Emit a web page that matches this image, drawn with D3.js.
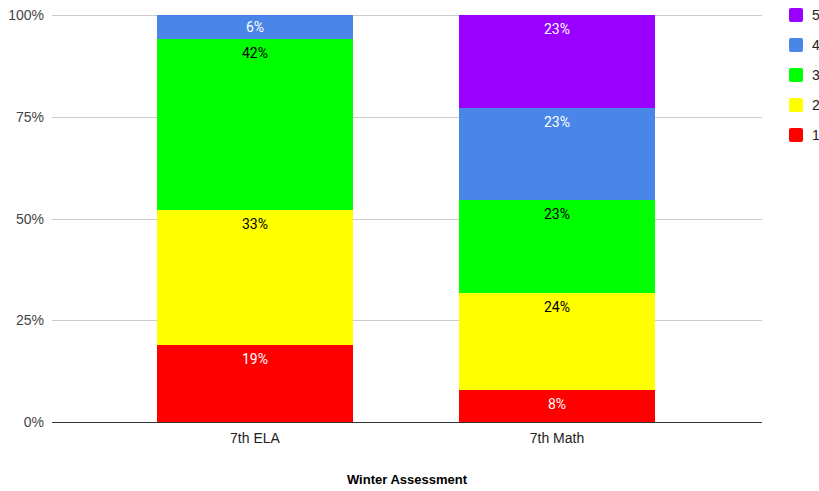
<!DOCTYPE html>
<html>
<head>
<meta charset="utf-8">
<script src="https://cdn.jsdelivr.net/npm/d3@7"></script>
<style>
  html, body { margin: 0; padding: 0; background: #fff; }
  svg { display: block; }
</style>
</head>
<body>
<svg id="chart" width="819" height="491"></svg>
<script>
// Assessment groups along the x axis
const categories = ["7th ELA", "7th Math"];
// Performance levels, bottom of the stack first
const levels = ["1", "2", "3", "4", "5"];
// Share of students (%) per level, one value per category
const level1 = [19, 8];
const level2 = [33, 24];
const level3 = [42, 23];
const level4 = [6, 23];
const level5 = [0, 23];
const yTicks = [0, 25, 50, 75, 100];
const xTitle = "Winter Assessment";

const colors = {"1": "#ff0000", "2": "#ffff00", "3": "#00ff00", "4": "#4a86e8", "5": "#9900ff"};
const labelColors = {"1": "#ffffff", "2": "#000000", "3": "#000000", "4": "#ffffff", "5": "#ffffff"};

const seriesValues = [level1, level2, level3, level4, level5];
const rows = categories.map((c, i) => {
  const row = {category: c};
  levels.forEach((l, j) => { row[l] = seriesValues[j][i]; });
  return row;
});

const svg = d3.select("#chart");
const plot = {left: 52, right: 762, top: 15, bottom: 422};

const x = d3.scaleBand().domain(categories).range([104, 708]).paddingInner(0.35).paddingOuter(0.175);
const y = d3.scaleLinear().domain([0, 1]).range([plot.bottom, plot.top]);

const stack = d3.stack().keys(levels).offset(d3.stackOffsetExpand);
const layers = stack(rows);

const axisFont = "Liberation Sans, Arial, sans-serif";

// Gridlines and y tick labels
const grid = svg.append("g");
yTicks.forEach(t => {
  const yy = Math.round(y(t / 100)) + 0.5;
  grid.append("line")
    .attr("x1", plot.left).attr("x2", plot.right)
    .attr("y1", yy).attr("y2", yy)
    .attr("stroke", "#cccccc").attr("stroke-width", 1);
  grid.append("text")
    .attr("x", 44).attr("y", yy)
    .attr("dy", "0.35em")
    .attr("text-anchor", "end")
    .attr("font-family", axisFont)
    .attr("font-size", 14)
    .attr("fill", "#444444")
    .text(t + "%");
});

// Stacked bars
const barGroup = svg.append("g").attr("shape-rendering", "crispEdges");
layers.forEach(layer => {
  barGroup.selectAll(null)
    .data(layer.filter(d => d[1] - d[0] > 0))
    .enter().append("rect")
    .attr("x", d => x(d.data.category))
    .attr("width", x.bandwidth())
    .attr("y", d => y(d[1]))
    .attr("height", d => y(d[0]) - y(d[1]))
    .attr("fill", colors[layer.key]);
});

// Segment value labels, placed near the top of each segment
const labelGroup = svg.append("g");
layers.forEach(layer => {
  labelGroup.selectAll(null)
    .data(layer.filter(d => d[1] - d[0] > 0))
    .enter().append("text")
    .attr("x", d => x(d.data.category) + x.bandwidth() / 2)
    .attr("y", d => {
      const top = y(d[1]);
      const mid = (y(d[0]) + y(d[1])) / 2;
      return Math.min(top + 14, mid);
    })
    .attr("dy", "0.35em")
    .attr("text-anchor", "middle")
    .attr("font-family", "Roboto, Liberation Sans, Arial, sans-serif")
    .attr("font-size", 14)
    .attr("fill", labelColors[layer.key])
    .text(d => d.data[layer.key] + "%");
});

// Baseline
svg.append("line")
  .attr("x1", plot.left).attr("x2", plot.right)
  .attr("y1", Math.round(y(0)) + 0.5).attr("y2", Math.round(y(0)) + 0.5)
  .attr("stroke", "#333333").attr("stroke-width", 1);

// X axis category labels
svg.append("g").selectAll("text")
  .data(categories)
  .enter().append("text")
  .attr("x", d => x(d) + x.bandwidth() / 2)
  .attr("y", 443)
  .attr("text-anchor", "middle")
  .attr("font-family", axisFont)
  .attr("font-size", 14)
  .attr("fill", "#222222")
  .text(d => d);

// X axis title
svg.append("text")
  .attr("x", 407)
  .attr("y", 484)
  .attr("text-anchor", "middle")
  .attr("font-family", axisFont)
  .attr("font-size", 13)
  .attr("font-weight", "bold")
  .attr("fill", "#000000")
  .text(xTitle);

// Legend, top level first
const legend = svg.append("g");
levels.slice().reverse().forEach((l, i) => {
  const ly = 8 + i * 30;
  legend.append("rect")
    .attr("x", 789).attr("y", ly)
    .attr("width", 14).attr("height", 14)
    .attr("rx", 2)
    .attr("fill", colors[l]);
  legend.append("text")
    .attr("x", 812).attr("y", ly + 7)
    .attr("dy", "0.35em")
    .attr("font-family", axisFont)
    .attr("font-size", 14)
    .attr("fill", "#222222")
    .text(l);
});
</script>
</body>
</html>
